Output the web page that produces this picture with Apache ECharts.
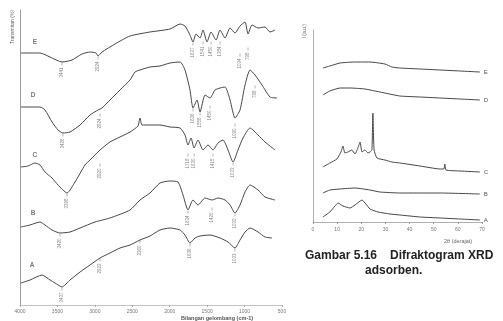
<!DOCTYPE html>
<html>
<head>
<meta charset="utf-8">
<title>FTIR dan XRD adsorben</title>
<script src="https://cdn.jsdelivr.net/npm/echarts@6/dist/echarts.min.js"></script>
<style>
  html, body { margin: 0; padding: 0; background: #fff; }
  #main { width: 503px; height: 321px; }
</style>
</head>
<body>
<div id="main"></div>
<script>
        // FTIR spektrum (bilangan gelombang cm-1, transmitan relatif)
        var ftirE = [[3987,252],[3733,252],[3599,248],[3439,243],[3305,245],[3172,251],[3065,253],[2985,252],[2958,249],[2904,253],[2731,261],[2530,269],[2263,273],[1996,276],[1862,281],[1796,279],[1729,270],[1689,263],[1649,271],[1595,267],[1555,275],[1502,263],[1448,273],[1381,265],[1328,275],[1261,267],[1194,277],[1128,272],[1061,279],[994,283],[954,271],[900,280],[820,277],[727,278],[660,273],[593,275]];
        var ftirD = [[3987,198],[3733,198],[3666,195],[3572,183],[3492,175],[3426,172],[3332,173],[3198,180],[3065,190],[2958,195],[2904,197],[2798,205],[2664,215],[2530,225],[2464,233],[2397,235],[2263,238],[2130,239],[1996,242],[1862,243],[1796,235],[1729,215],[1689,197],[1635,205],[1595,193],[1528,210],[1462,207],[1395,215],[1328,217],[1261,218],[1194,205],[1128,187],[1061,195],[994,220],[927,235],[860,230],[767,220],[660,208],[567,207]];
        var ftirC = [[3987,138],[3893,139],[3800,142],[3733,140],[3666,133],[3572,127],[3492,120],[3372,112],[3265,123],[3132,140],[3065,145],[2931,155],[2798,163],[2664,168],[2530,173],[2424,179],[2397,187],[2370,180],[2263,180],[2130,180],[1996,178],[1862,177],[1796,170],[1756,160],[1715,167],[1675,157],[1622,165],[1555,155],[1488,160],[1422,155],[1355,162],[1288,165],[1221,155],[1154,143],[1088,155],[1021,167],[927,177],[820,170],[727,163],[593,155]];
        var ftirB = [[3987,78],[3866,80],[3733,83],[3666,80],[3572,75],[3466,72],[3332,73],[3198,77],[2998,83],[2798,87],[2530,95],[2397,105],[2263,112],[2130,122],[1996,124],[1889,123],[1822,110],[1756,95],[1689,105],[1622,100],[1528,107],[1435,105],[1355,107],[1261,105],[1194,100],[1128,92],[1061,100],[994,113],[927,120],[820,115],[727,108],[593,105]];
        var ftirA = [[3987,22],[3866,25],[3706,30],[3599,25],[3532,22],[3439,18],[3332,25],[3198,33],[3065,40],[2931,47],[2798,52],[2664,57],[2530,60],[2397,65],[2263,69],[2130,75],[1996,77],[1862,75],[1796,70],[1729,62],[1662,67],[1595,69],[1462,70],[1328,67],[1221,63],[1128,57],[1061,65],[994,73],[927,77],[820,73],[727,68],[633,67]];

        // label pita serapan: [bilangan gelombang, posisi, teks]
        var ftirPeaks = [
            [3439,241,'3441'],[2958,247,'2924'],[1689,261,'1637'],[1555,262,'1541'],[1448,262,'1450'],[1328,262,'1384'],[1061,250,'1034'],[954,256,'798'],
            [3426,170,'3426'],[2931,190,'2924'],[1689,195,'1636'],[1595,191,'1558'],[1462,198,'1450'],[1128,180,'1090'],[860,218,'798'],
            [3372,110,'3398'],[2931,140,'2920'],[1756,150,'1718'],[1675,150,'1630'],[1422,150,'1415'],[1154,141,'1033'],
            [3466,70,'3420'],[1756,93,'1634'],[1435,96,'1420'],[1128,90,'1032'],
            [3439,16,'3437'],[2931,45,'2922'],[2397,63,'2360'],[1729,60,'1636'],[1128,55,'1033']
        ];
        var ftirNames = [[3800,263,'E'],[3826,210,'D'],[3800,150,'C'],[3826,92,'B'],[3840,40,'A']];

        // XRD difraktogram (2 theta, intensitas relatif)
        var xrdE = [[4.1,154],[7.0,156],[11.2,159],[17.4,160],[23.6,160],[29.8,158],[32.7,155],[36.0,154],[44.3,153],[52.6,152],[60.9,151],[69.1,150]];
        var xrdD = [[4.1,127],[7.0,131],[11.2,134],[15.3,134],[21.5,133],[27.7,130],[36.0,126],[44.3,125],[52.6,124],[60.9,123],[69.1,122]];
        var xrdC = [[4.1,55],[7.0,59],[9.9,63],[11.6,70],[12.4,76],[13.2,69],[14.5,70],[16.1,72],[17.4,68],[18.6,74],[19.5,80],[20.3,70],[21.5,72],[22.8,69],[23.6,70],[24.4,72],[24.8,109],[25.3,72],[26.5,64],[29.8,62],[32.7,60],[36.0,59],[44.3,56],[52.6,53],[54.2,53],[54.6,58],[55.1,52],[60.9,51],[69.1,50]];
        var xrdB = [[4.1,29],[7.0,32],[11.2,33],[17.4,34],[23.6,32],[27.7,30],[36.0,29],[52.6,29],[69.1,28]];
        var xrdA = [[4.1,5],[7.0,10],[9.1,16],[10.4,19],[12.4,16],[15.3,14],[17.4,17],[20.3,22],[21.9,18],[23.6,13],[26.9,10],[31.9,8],[36.0,7],[44.3,5],[52.6,4],[60.9,3],[69.1,2]];
        var xrdNames = ['E','D','C','B','A'];

        var lineColor = '#474747';

        function ftirLine(data) {
            return {
                type: 'line', xAxisIndex: 0, yAxisIndex: 0, data: data,
                symbol: 'none', smooth: 0.2,
                lineStyle: { color: lineColor, width: 1 },
                silent: true, animation: false
            };
        }

        function xrdLine(data, name) {
            return {
                type: 'line', xAxisIndex: 1, yAxisIndex: 1, data: data,
                symbol: 'none', smooth: 0.15,
                lineStyle: { color: lineColor, width: 1 },
                endLabel: { show: true, formatter: name, color: '#555', fontSize: 6, distance: 4 },
                silent: true, animation: false
            };
        }

        var peakData = [];
        for (var i = 0; i < ftirPeaks.length; i++) {
            peakData.push({ value: [ftirPeaks[i][0], ftirPeaks[i][1]], name: ftirPeaks[i][2] });
        }
        var nameData = [];
        for (var i = 0; i < ftirNames.length; i++) {
            nameData.push({ value: [ftirNames[i][0], ftirNames[i][1]], name: ftirNames[i][2] });
        }

        // angka sumbu tanpa pemisah ribuan
        function plain(v) { return String(v); }

        var option = {
            backgroundColor: '#fff',
            animation: false,
            grid: [
                { left: 20, top: 10, width: 262, height: 295 },
                { left: 313, top: 30, width: 169, height: 192 }
            ],
            xAxis: [
                {
                    gridIndex: 0, type: 'value', min: 500, max: 4000, interval: 500, inverse: true,
                    axisLine: { lineStyle: { color: '#c4c4c4' } },
                    axisTick: { show: true, length: 2, lineStyle: { color: '#aaa' } },
                    axisLabel: { fontSize: 5, color: '#777', margin: 4, formatter: plain },
                    splitLine: { show: false }
                },
                {
                    gridIndex: 1, type: 'value', min: 0, max: 70, interval: 10,
                    axisLine: { lineStyle: { color: '#b0b0b0' } },
                    axisTick: { show: true, length: 2, lineStyle: { color: '#999' } },
                    axisLabel: { fontSize: 5, color: '#777', margin: 5, formatter: plain },
                    splitLine: { show: false }
                }
            ],
            yAxis: [
                {
                    gridIndex: 0, type: 'value', min: 0, max: 295,
                    axisLine: { show: true, lineStyle: { color: '#9a9a9a' } },
                    axisTick: { show: false }, axisLabel: { show: false }, splitLine: { show: false }
                },
                {
                    gridIndex: 1, type: 'value', min: 0, max: 192,
                    axisLine: { show: true, lineStyle: { color: '#b0b0b0' } },
                    axisTick: { show: false }, axisLabel: { show: false }, splitLine: { show: false }
                }
            ],
            graphic: [
                { type: 'text', left: 10, top: 10, rotation: Math.PI / 2,
                  style: { text: 'Transmitan (%)', fontSize: 5, fill: '#666', fontFamily: 'Liberation Sans' } },
                { type: 'text', left: 181, top: 315,
                  style: { text: 'Bilangan gelombang (cm-1)', fontSize: 5.5, fontWeight: 'bold', fill: '#555', fontFamily: 'Liberation Sans' } },
                { type: 'text', left: 302, top: 24, rotation: Math.PI / 2,
                  style: { text: 'I (a.u.)', fontSize: 5, fill: '#666', fontFamily: 'Liberation Sans' } },
                { type: 'text', left: 444, top: 238,
                  style: { text: '2θ (derajat)', fontSize: 5.5, fill: '#666', fontFamily: 'Liberation Sans' } },
                { type: 'text', left: 305, top: 250,
                  style: { text: 'Gambar 5.16', fontSize: 12, fontWeight: 'bold', fill: '#222', fontFamily: 'Liberation Sans' } },
                { type: 'text', left: 390, top: 250,
                  style: { text: 'Difraktogram XRD', fontSize: 12, fontWeight: 'bold', fill: '#222', fontFamily: 'Liberation Sans' } },
                { type: 'text', left: 365, top: 265,
                  style: { text: 'adsorben.', fontSize: 12, fontWeight: 'bold', fill: '#222', fontFamily: 'Liberation Sans' } }
            ],
            series: [
                ftirLine(ftirE), ftirLine(ftirD), ftirLine(ftirC), ftirLine(ftirB), ftirLine(ftirA),
                {
                    type: 'scatter', xAxisIndex: 0, yAxisIndex: 0, data: peakData,
                    symbol: 'rect', symbolSize: [0.6, 3], itemStyle: { color: '#666' },
                    label: {
                        show: true, formatter: '{b}', position: 'bottom', distance: 2,
                        rotate: 90, align: 'right', verticalAlign: 'middle',
                        fontSize: 4.5, color: '#666'
                    },
                    silent: true
                },
                {
                    type: 'scatter', xAxisIndex: 0, yAxisIndex: 0, data: nameData,
                    symbolSize: 0,
                    label: { show: true, formatter: '{b}', position: 'inside', fontSize: 6.5, fontWeight: 'bold', color: '#555' },
                    silent: true
                },
                xrdLine(xrdE, xrdNames[0]), xrdLine(xrdD, xrdNames[1]), xrdLine(xrdC, xrdNames[2]),
                xrdLine(xrdB, xrdNames[3]), xrdLine(xrdA, xrdNames[4])
            ]
        };

        var myChart = echarts.init(document.getElementById('main'));
        myChart.setOption(option);
</script>
</body>
</html>
